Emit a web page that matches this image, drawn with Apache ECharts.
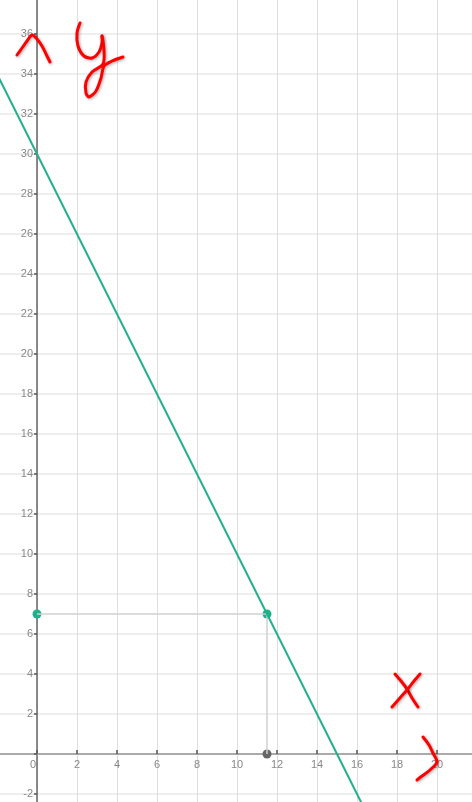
<!DOCTYPE html>
<html>
<head>
<meta charset="utf-8">
<script src="https://cdn.jsdelivr.net/npm/echarts@6/dist/echarts.min.js"></script>
<style>html,body{margin:0;padding:0;background:#fff}#c{width:472px;height:802px}</style>
</head>
<body>
<div id="c"></div>
<script>
// Line y = 30 - 2x (endpoints, extended past the edges)
var lineData = [[-2, 34], [17, -4]];
// Teal points
var tealPoints = [[0, 7], [11.5, 7]];
// Gray point on x axis
var grayPoints = [[11.5, 0]];
// Guide segments
var guideH = [[0, 7], [11.5, 7]];
var guideV = [[11.5, 7], [11.5, 0]];
// Visible window
var xRange = [-1.85, 21.75];
var yRange = [-2.4, 37.7];
// Tick values
var xTicks = [0, 2, 4, 6, 8, 10, 12, 14, 16, 18, 20];
var yTicks = [-2, 2, 4, 6, 8, 10, 12, 14, 16, 18, 20, 22, 24, 26, 28, 30, 32, 34, 36];
var yGrid = [-2, 0, 2, 4, 6, 8, 10, 12, 14, 16, 18, 20, 22, 24, 26, 28, 30, 32, 34, 36];

// Hand-drawn red annotation strokes (pixels)
var strokes = [
  [[17,55],[22,48],[27,41],[32,35],[37,39],[42,46],[46,54],[50,62]],
  [[80,23],[77,33],[78,46],[84,56],[92,58],[99,52],[102,43],[102,36]],
  [[102,36],[104,50],[103,64],[92,72],[86,82],[86,93],[89,97],[96,91],[101,78],[104,66],[112,61],[123,57]],
  [[395,674],[401,681],[407,689],[412,698],[418,707]],
  [[420,674],[414,681],[407,690],[399,699],[392,707]],
  [[423,737],[429,745],[433,753],[437,762],[430,770],[422,776],[417,780]]
];

var chart = echarts.init(document.getElementById('c'), null, {renderer: 'canvas'});
var labelStyle = {color: '#888', fontSize: 11, fontFamily: 'Liberation Sans, Arial, sans-serif'};
function build(xOff, yOff) {
  return {
    animation: false,
    grid: {left: 0, right: 0, top: 0, bottom: 0, outerBoundsMode: 'none'},
    xAxis: {
      type: 'value', min: xRange[0], max: xRange[1], position: 'bottom', offset: xOff,
      axisLine: {onZero: false, lineStyle: {color: '#aaa', width: 2}},
      axisTick: {show: true, length: 4, inside: true, customValues: xTicks, lineStyle: {color: '#555', width: 1.5}},
      axisLabel: Object.assign({margin: 5, customValues: xTicks,
        formatter: function(v){ return v === 0 ? '{z|0}' : String(v); },
        rich: {z: {color: '#888', fontSize: 11, padding: [0, 8, 0, 0]}}}, labelStyle),
      splitLine: {show: true, lineStyle: {color: '#dedede', width: 1}}
    },
    yAxis: {
      type: 'value', min: yRange[0], max: yRange[1], position: 'left', offset: yOff,
      axisLine: {onZero: false, lineStyle: {color: '#666', width: 1.5}},
      axisTick: {show: true, length: 3, customValues: yGrid, lineStyle: {color: '#555', width: 1.5}},
      axisLabel: Object.assign({margin: 4, customValues: yTicks}, labelStyle),
      splitLine: {show: true, lineStyle: {color: '#eeeeee', width: 2}}
    },
    graphic: strokes.map(function(p){
      return {type: 'polyline', shape: {points: p, smooth: 0.3}, z: 100,
        style: {stroke: '#ff0000', lineWidth: 3, fill: null, lineCap: 'round', lineJoin: 'round',
          shadowBlur: 3, shadowColor: 'rgba(0,0,0,0.35)', shadowOffsetX: 1, shadowOffsetY: 1}};
    }),
    series: [
      {type: 'line', data: guideH, symbol: 'none', lineStyle: {color: '#d0d0d0', width: 1.5}, silent: true},
      {type: 'line', data: guideV, symbol: 'none', lineStyle: {color: '#d0d0d0', width: 1.5}, silent: true},
      {type: 'line', data: lineData, symbol: 'none', lineStyle: {color: '#1fb08c', width: 2}, clip: true},
      {type: 'scatter', data: tealPoints, symbolSize: 9, itemStyle: {color: '#1fb08c', opacity: 1}},
      {type: 'scatter', data: grayPoints, symbolSize: 9, itemStyle: {color: '#666', opacity: 1}}
    ]
  };
}
chart.setOption(build(0, 0));
var origin = chart.convertToPixel({gridIndex: 0}, [0, 0]);
var h = chart.getHeight();
chart.setOption(build(-(h - origin[1]), -origin[0]), true);
</script>
</body>
</html>
